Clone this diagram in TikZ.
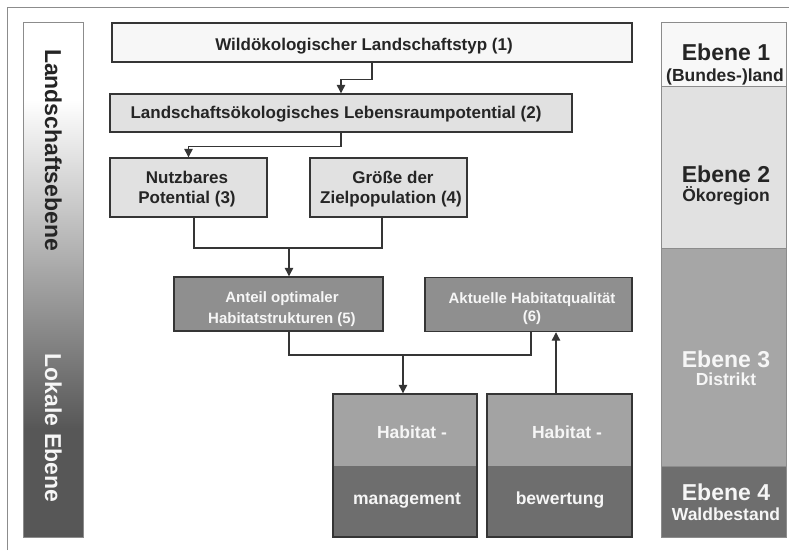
\documentclass[tikz,border=0pt]{standalone}
\usepackage{fontspec}
\setmainfont{Liberation Sans}
\usetikzlibrary{arrows.meta}
\definecolor{bdr}{HTML}{353535}
\definecolor{frm}{HTML}{8C8C8C}
\definecolor{txtdark}{HTML}{252525}
\definecolor{txtlight}{HTML}{F6F6F6}
\definecolor{cone}{HTML}{F7F7F7}
\definecolor{ctwo}{HTML}{E1E1E1}
\definecolor{cmid}{HTML}{8F8F8F}
\definecolor{ctop}{HTML}{A3A3A3}
\definecolor{cbot}{HTML}{6E6E6E}
\definecolor{eone}{HTML}{F8F8F8}
\definecolor{etwo}{HTML}{E1E1E1}
\definecolor{ethree}{HTML}{A6A6A6}
\definecolor{efour}{HTML}{6E6E6E}
\definecolor{barDark}{HTML}{575757}
\pgfdeclareverticalshading{barshade}{100bp}{color(0bp)=(barDark); color(35.5bp)=(barDark); color(67.5bp)=(white); color(100bp)=(white)}
\begin{document}
\begin{tikzpicture}[x=1pt,y=-1pt,
  box/.style={draw=bdr, line width=1.4pt, inner sep=0pt},
  twotone/.style={box, fill=ctop, path picture={\fill[cbot] (path picture bounding box.west) rectangle (path picture bounding box.south east);}},
  conn/.style={draw=bdr, line width=1.2pt},
  arr/.style={conn, -{Triangle[length=8.5pt,width=8.5pt]}},
  lvl/.style={draw=frm, line width=0.8pt, inner sep=0pt, minimum width=125pt},
  txt/.style={inner sep=0pt, anchor=base, text=txtdark, font=\bfseries\fontsize{17}{20}\selectfont},
  txtw/.style={txt, text=txtlight},
  txts/.style={txtw, font=\bfseries\fontsize{15}{18}\selectfont},
  big/.style={inner sep=0pt, anchor=base, font=\bfseries\fontsize{23}{26}\selectfont},
  sub/.style={inner sep=0pt, anchor=base, font=\bfseries\fontsize{17.5}{20}\selectfont}
]
\useasboundingbox (0,0) rectangle (789,550);
% outer frame
\draw[frm, line width=1pt] (7,550) -- (7,7) -- (789,7);

% left gradient bar
\node[draw=frm, line width=0.8pt, shading=barshade, minimum width=60pt, minimum height=515pt, inner sep=0pt] (lbar) at (53,279.5) {};
\node[big, rotate=-90, text=txtdark] (lbtop) at (45,150) {Landschaftsebene};
\node[big, rotate=-90, text=txtlight] (lbbot) at (45,428) {Lokale Ebene};

% boxes
\node[box, fill=cone, minimum width=520pt, minimum height=39pt] (b1) at (372,42.5) {};
\node[box, fill=ctwo, minimum width=462pt, minimum height=38pt] (b2) at (341,113) {};
\node[box, fill=ctwo, minimum width=157pt, minimum height=59pt] (b3) at (188.5,187.5) {};
\node[box, fill=ctwo, minimum width=157pt, minimum height=59pt] (b4) at (388.5,187.5) {};
\node[box, fill=cmid, minimum width=209pt, minimum height=54pt] (b5) at (278.5,304) {};
\node[box, fill=cmid, minimum width=207pt, minimum height=54pt] (b6) at (528.5,304.5) {};
\node[twotone, minimum width=144pt, minimum height=143pt] (b7) at (405,465.5) {};
\node[twotone, minimum width=145pt, minimum height=143pt] (b8) at (559.5,465.5) {};

% box texts
\node[txt] (t1) at (364,50) {Wildökologischer Landschaftstyp (1)};
\node[txt] (t2) at (336,118) {Landschaftsökologisches Lebensraumpotential (2)};
\node[txt] (t3a) at (187,183) {Nutzbares};
\node[txt] (t3b) at (187,203) {Potential (3)};
\node[txt] (t4a) at (393,183) {Größe der};
\node[txt] (t4b) at (391,203) {Zielpopulation (4)};
\node[txts] (t5a) at (282,302) {Anteil optimaler};
\node[txts] (t5b) at (282,323) {Habitatstrukturen (5)};
\node[txts] (t6a) at (532,303) {Aktuelle Habitatqualität};
\node[txts] (t6b) at (532,321) {(6)};
\node[txtw, font=\bfseries\fontsize{17.5}{20}\selectfont] (t7a) at (412,438) {Habitat -};
\node[txtw, font=\bfseries\fontsize{17.5}{20}\selectfont] (t7b) at (407,504) {management};
\node[txtw, font=\bfseries\fontsize{17.5}{20}\selectfont] (t8a) at (567,438) {Habitat -};
\node[txtw, font=\bfseries\fontsize{17.5}{20}\selectfont] (t8b) at (560,504) {bewertung};

% connectors
\coordinate (m1) at (289,248);
\coordinate (m2) at (403,355);
\draw[arr] (b1.south) -- ++(0,17) -| (b2.north);
\draw[arr] (b2.south) -- ++(0,14) -| (b3.north);
\draw[conn] ([xshift=5.5pt]b3.south) |- (m1) -| ([xshift=-6.5pt]b4.south);
\draw[arr] (m1) -- (m1 |- b5.north);
\draw[conn] (m1 |- b5.south) |- (m2) -| ([xshift=2.5pt]b6.south);
\draw[arr] (m2) -- (m2 |- b7.north);
\draw[arr] ([xshift=-3.5pt]b8.north) -- ([xshift=-3.5pt]b8.north |- b6.south);

% right level column
\node[lvl, fill=eone, minimum height=64pt] (e1) at (723.5,54) {};
\node[lvl, fill=etwo, minimum height=162pt] (e2) at (723.5,167) {};
\node[lvl, fill=ethree, minimum height=218pt] (e3) at (723.5,357) {};
\node[lvl, fill=efour, minimum height=71pt] (e4) at (723.5,501.5) {};
\node[big, text=txtdark] (e1a) at (726,60) {Ebene 1};
\node[sub, text=txtdark] (e1b) at (725,81) {(Bundes-)land};
\node[big, text=txtdark] (e2a) at (726,182) {Ebene 2};
\node[sub, text=txtdark] (e2b) at (726,201) {Ökoregion};
\node[big, text=txtlight] (e3a) at (726,367) {Ebene 3};
\node[sub, text=txtlight] (e3b) at (726,385) {Distrikt};
\node[big, text=txtlight] (e4a) at (726,500) {Ebene 4};
\node[sub, text=txtlight] (e4b) at (726,520) {Waldbestand};
\end{tikzpicture}
\end{document}
